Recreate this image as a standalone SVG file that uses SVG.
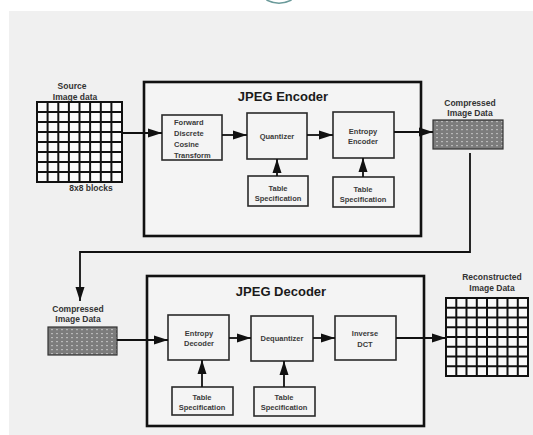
<svg xmlns="http://www.w3.org/2000/svg" width="533" height="435" viewBox="0 0 533 435">
  <style>
    .box { fill: #f4f4f4; stroke: #2a2a2a; stroke-width: 1.6; }
    .frame { fill: #f4f4f4; stroke: #111; stroke-width: 2.6; }
    .lbl { font-family: "Liberation Sans", Arial, sans-serif; font-weight: bold; font-size: 7.5px; fill: #3a3a3a; text-anchor: middle; }
    .lbl-left { text-anchor: start; }
    .cap { font-family: "Liberation Sans", Arial, sans-serif; font-weight: bold; font-size: 8.5px; fill: #333; text-anchor: middle; }
    .title { font-family: "Liberation Sans", Arial, sans-serif; font-weight: bold; font-size: 13px; fill: #1a1a1a; text-anchor: middle; }
    .wire { fill: none; stroke: #111; stroke-width: 1.8; }
    .grid line { stroke: #111; stroke-width: 2; }
  </style>
  <defs>
    <marker id="arrow" markerUnits="userSpaceOnUse" markerWidth="14" markerHeight="10" refX="14" refY="5" orient="auto">
      <path d="M0,0.5 L14,5 L0,9.5 Z" fill="#111"/>
    </marker>
    <pattern id="hatch" patternUnits="userSpaceOnUse" width="5" height="4">
      <rect width="5" height="4" fill="#7c7c7c"/>
      <rect x="1" y="1" width="2" height="1.2" fill="#b8b8b8"/>
    </pattern>
  </defs>

  <!-- page background -->
  <rect x="0" y="0" width="533" height="435" fill="#ffffff"/>
  <rect x="9" y="11" width="524" height="424" fill="#f0f0f0"/>
  <path d="M266.5,0 A27.5,27.5 0 0 0 291.5,0" fill="none" stroke="#6a9a9a" stroke-width="1.6"/>

  <!-- source image data -->
  <g id="source">
    <text class="cap" x="72" y="89">Source</text>
    <text class="cap" x="75" y="100">Image data</text>
    <g class="grid">
      <rect x="37" y="102" width="85" height="80" fill="#fafafa" stroke="#111" stroke-width="2"/>
      <line x1="47.6" y1="102" x2="47.6" y2="182"/>
      <line x1="58.3" y1="102" x2="58.3" y2="182"/>
      <line x1="68.9" y1="102" x2="68.9" y2="182"/>
      <line x1="79.5" y1="102" x2="79.5" y2="182"/>
      <line x1="90.1" y1="102" x2="90.1" y2="182"/>
      <line x1="100.8" y1="102" x2="100.8" y2="182"/>
      <line x1="111.4" y1="102" x2="111.4" y2="182"/>
      <line x1="37" y1="112" x2="122" y2="112"/>
      <line x1="37" y1="122" x2="122" y2="122"/>
      <line x1="37" y1="132" x2="122" y2="132"/>
      <line x1="37" y1="142" x2="122" y2="142"/>
      <line x1="37" y1="152" x2="122" y2="152"/>
      <line x1="37" y1="162" x2="122" y2="162"/>
      <line x1="37" y1="172" x2="122" y2="172"/>
    </g>
    <text class="cap" x="91" y="191">8x8 blocks</text>
  </g>

  <!-- encoder -->
  <g id="encoder">
    <rect class="frame" x="144" y="82" width="277" height="154"/>
    <text class="title" x="283" y="101">JPEG Encoder</text>
  </g>
  <g id="fdct">
    <rect class="box" x="162" y="115" width="60" height="45"/>
    <text class="lbl lbl-left" x="174" y="125">Forward</text>
    <text class="lbl lbl-left" x="174" y="136">Discrete</text>
    <text class="lbl lbl-left" x="174" y="147">Cosine</text>
    <text class="lbl lbl-left" x="174" y="158">Transform</text>
  </g>
  <g id="quantizer">
    <rect class="box" x="247" y="113" width="60" height="46"/>
    <text class="lbl" x="277" y="138.5">Quantizer</text>
  </g>
  <g id="table-spec-q">
    <rect class="box" x="248" y="176" width="60" height="30"/>
    <text class="lbl" x="278" y="190.5">Table</text>
    <text class="lbl" x="278" y="200.5">Specification</text>
  </g>
  <g id="entropy-encoder">
    <rect class="box" x="333" y="112" width="61" height="46"/>
    <text class="lbl" x="363" y="133.5">Entropy</text>
    <text class="lbl" x="363" y="143.5">Encoder</text>
  </g>
  <g id="table-spec-e">
    <rect class="box" x="333" y="177" width="61" height="30"/>
    <text class="lbl" x="363" y="191.5">Table</text>
    <text class="lbl" x="363" y="201.5">Specification</text>
  </g>
  <g id="compressed-out">
    <text class="cap" x="470" y="106">Compressed</text>
    <text class="cap" x="470" y="116">Image Data</text>
    <rect x="433" y="120" width="70" height="29" fill="url(#hatch)" stroke="#333" stroke-width="1.2"/>
  </g>

  <!-- decoder -->
  <g id="compressed-in">
    <text class="cap" x="78" y="312">Compressed</text>
    <text class="cap" x="78" y="322">Image Data</text>
    <rect x="48" y="327" width="69" height="28" fill="url(#hatch)" stroke="#333" stroke-width="1.2"/>
  </g>
  <g id="decoder">
    <rect class="frame" x="147" y="276" width="277" height="150"/>
    <text class="title" x="281" y="296">JPEG Decoder</text>
  </g>
  <g id="entropy-decoder">
    <rect class="box" x="168" y="315" width="61" height="45"/>
    <text class="lbl" x="199" y="335.5">Entropy</text>
    <text class="lbl" x="199" y="345.5">Decoder</text>
  </g>
  <g id="table-spec-d1">
    <rect class="box" x="172" y="387" width="61" height="28"/>
    <text class="lbl" x="202" y="399.5">Table</text>
    <text class="lbl" x="202" y="409.5">Specification</text>
  </g>
  <g id="dequantizer">
    <rect class="box" x="251" y="316" width="62" height="45"/>
    <text class="lbl" x="282" y="340.5">Dequantizer</text>
  </g>
  <g id="table-spec-d2">
    <rect class="box" x="254" y="387" width="61" height="29"/>
    <text class="lbl" x="284" y="399.5">Table</text>
    <text class="lbl" x="284" y="409.5">Specification</text>
  </g>
  <g id="idct">
    <rect class="box" x="335" y="316" width="61" height="44"/>
    <text class="lbl" x="365" y="335.5">Inverse</text>
    <text class="lbl" x="365" y="346.5">DCT</text>
  </g>
  <g id="reconstructed">
    <text class="cap" x="492" y="280">Reconstructed</text>
    <text class="cap" x="492" y="291">Image Data</text>
    <g class="grid">
      <rect x="446" y="298" width="82" height="78" fill="#fafafa" stroke="#111" stroke-width="2"/>
      <line x1="456.3" y1="298" x2="456.3" y2="376"/>
      <line x1="466.5" y1="298" x2="466.5" y2="376"/>
      <line x1="476.8" y1="298" x2="476.8" y2="376"/>
      <line x1="487" y1="298" x2="487" y2="376"/>
      <line x1="497.3" y1="298" x2="497.3" y2="376"/>
      <line x1="507.5" y1="298" x2="507.5" y2="376"/>
      <line x1="517.8" y1="298" x2="517.8" y2="376"/>
      <line x1="446" y1="307.8" x2="528" y2="307.8"/>
      <line x1="446" y1="317.5" x2="528" y2="317.5"/>
      <line x1="446" y1="327.3" x2="528" y2="327.3"/>
      <line x1="446" y1="337" x2="528" y2="337"/>
      <line x1="446" y1="346.8" x2="528" y2="346.8"/>
      <line x1="446" y1="356.5" x2="528" y2="356.5"/>
      <line x1="446" y1="366.3" x2="528" y2="366.3"/>
    </g>
  </g>

  <!-- connectors -->
  <g id="connectors">
    <path class="wire" d="M122,133 L162,133" marker-end="url(#arrow)"/>
    <path class="wire" d="M222,135 L247,135" marker-end="url(#arrow)"/>
    <path class="wire" d="M307,135 L333,135" marker-end="url(#arrow)"/>
    <path class="wire" d="M277,176 L277,159" marker-end="url(#arrow)"/>
    <path class="wire" d="M363,177 L363,158" marker-end="url(#arrow)"/>
    <path class="wire" d="M394,132 L433,132" marker-end="url(#arrow)"/>
    <path class="wire" d="M470,153 L470,252 L80,252 L80,301" marker-end="url(#arrow)"/>
    <path class="wire" d="M117,340 L168,340" marker-end="url(#arrow)"/>
    <path class="wire" d="M202,387 L202,360" marker-end="url(#arrow)"/>
    <path class="wire" d="M229,338 L251,338" marker-end="url(#arrow)"/>
    <path class="wire" d="M284,387 L284,361" marker-end="url(#arrow)"/>
    <path class="wire" d="M313,338 L335,338" marker-end="url(#arrow)"/>
    <path class="wire" d="M396,338 L446,338" marker-end="url(#arrow)"/>
  </g>
</svg>
